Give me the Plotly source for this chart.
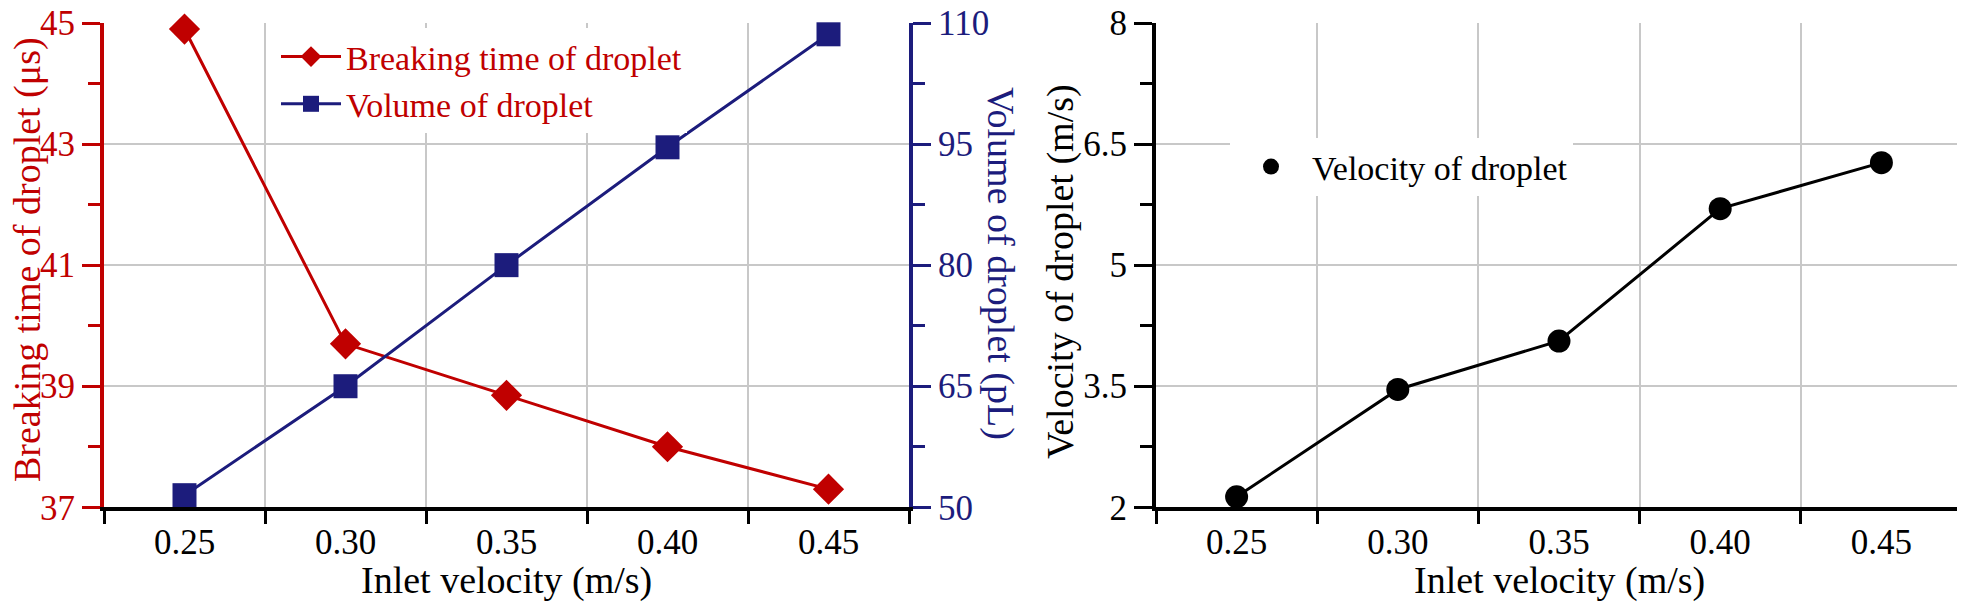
import plotly.graph_objects as go

W, H = 1965, 616
PAGE_PAD = 8  # default body margin of the html page

inlet_velocity = [0.25, 0.30, 0.35, 0.40, 0.45]
breaking_time = [44.9, 39.7, 38.85, 38.0, 37.3]
droplet_volume = [51.5, 65.0, 80.0, 94.6, 108.6]
droplet_velocity = [2.13, 3.46, 4.06, 5.70, 6.27]

x_ticks = [0.25, 0.30, 0.35, 0.40, 0.45]
x_ticktext = ["0.25", "0.30", "0.35", "0.40", "0.45"]
time_ticks = [37, 39, 41, 43, 45]
volume_ticks = [50, 65, 80, 95, 110]
velocity_ticks = [2, 3.5, 5, 6.5, 8]
velocity_ticktext = ["2", "3.5", "5", "6.5", "8"]

RED = "#c00000"
BLUE = "#1c1c7c"
GRID = "#c8c8c8"
FONT = "Liberation Serif"
TICK_FS = 35


def px_x(p):
    return (p - PAGE_PAD) / W


def px_y(p):
    return 1 - (p - PAGE_PAD) / H


fig = go.Figure()

fig.add_trace(go.Scatter(
    x=inlet_velocity, y=breaking_time, name="Breaking time of droplet",
    mode="lines+markers", line=dict(color=RED, width=3), cliponaxis=False,
    marker=dict(symbol="diamond", size=24, color=RED),
    xaxis="x", yaxis="y", legend="legend",
))
fig.add_trace(go.Scatter(
    x=inlet_velocity, y=droplet_volume, name="Volume of droplet",
    mode="lines+markers", line=dict(color=BLUE, width=3), cliponaxis=False,
    marker=dict(symbol="square", size=24, color=BLUE),
    xaxis="x", yaxis="y2", legend="legend",
))
fig.add_trace(go.Scatter(
    x=inlet_velocity, y=droplet_velocity, name="Velocity of droplet",
    mode="lines+markers", line=dict(color="black", width=3), cliponaxis=False,
    marker=dict(symbol="circle", size=23, color="black"),
    xaxis="x2", yaxis="y3", showlegend=False,
))
# legend entry for the right panel shows the marker only
fig.add_trace(go.Scatter(
    x=[None], y=[None], name="Velocity of droplet", mode="markers",
    marker=dict(symbol="circle", size=23, color="black"),
    xaxis="x2", yaxis="y3", legend="legend2",
))

left_dom = [px_x(104), px_x(909)]
right_dom = [px_x(1156), px_x(1962)]
y_dom = [px_y(507.3), px_y(23)]

xaxis_common = dict(
    range=[0.225, 0.475], tickmode="array", tickvals=x_ticks, ticktext=x_ticktext,
    ticks="outside", ticklen=0, showgrid=False, zeroline=False, automargin=False,
    showline=True, linecolor="black", linewidth=4, ticklabelstandoff=1,
    ticklabeloverflow="allow",
    tickfont=dict(family=FONT, size=TICK_FS, color="black"),
    minor=dict(tickmode="linear", tick0=0.225, dtick=0.05, ticks="outside",
               ticklen=13, tickwidth=3, tickcolor="black",
               showgrid=True, gridcolor=GRID, gridwidth=2),
)


def title_note(text, x, y, color, size, angle=0):
    return dict(
        text=text, textangle=angle, xref="paper", yref="paper",
        x=px_x(x), y=px_y(y), xanchor="center", yanchor="middle",
        showarrow=False, font=dict(family=FONT, size=size, color=color),
    )


fig.update_layout(
    width=W, height=H,
    margin=dict(l=0, r=0, t=0, b=0, autoexpand=False),
    paper_bgcolor="white", plot_bgcolor="white",
    font=dict(family=FONT, size=TICK_FS),
    xaxis=dict(domain=left_dom, anchor="y", **xaxis_common),
    xaxis2=dict(domain=right_dom, anchor="y3", **xaxis_common),
    yaxis=dict(
        domain=y_dom, anchor="x", range=[37, 45], tickmode="array", tickvals=time_ticks,
        ticks="outside", ticklen=18, tickwidth=3, tickcolor=RED, automargin=False,
        showline=True, linecolor=RED, linewidth=4, zeroline=False,
        showgrid=True, gridcolor=GRID, gridwidth=2, ticklabeloverflow="allow",
        tickfont=dict(family=FONT, size=TICK_FS, color=RED),
        minor=dict(tickmode="linear", tick0=38, dtick=2, ticks="outside",
                   ticklen=12, tickwidth=3, tickcolor=RED, showgrid=False),
    ),
    yaxis2=dict(
        domain=y_dom, anchor="x", overlaying="y", side="right",
        range=[50, 110], tickmode="array", tickvals=volume_ticks, automargin=False,
        ticks="outside", ticklen=18, tickwidth=3, tickcolor=BLUE,
        showline=True, linecolor=BLUE, linewidth=4, zeroline=False, showgrid=False,
        ticklabeloverflow="allow",
        tickfont=dict(family=FONT, size=TICK_FS, color=BLUE),
        minor=dict(tickmode="linear", tick0=57.5, dtick=15, ticks="outside",
                   ticklen=12, tickwidth=3, tickcolor=BLUE),
    ),
    yaxis3=dict(
        domain=y_dom, anchor="x2", range=[2, 8], tickmode="array",
        tickvals=velocity_ticks, ticktext=velocity_ticktext, automargin=False,
        ticks="outside", ticklen=18, tickwidth=3, tickcolor="black",
        showline=True, linecolor="black", linewidth=4, zeroline=False,
        showgrid=True, gridcolor=GRID, gridwidth=2, ticklabeloverflow="allow",
        tickfont=dict(family=FONT, size=TICK_FS, color="black"),
        minor=dict(tickmode="linear", tick0=2.75, dtick=1.5, ticks="outside",
                   ticklen=12, tickwidth=3, tickcolor="black", showgrid=False),
    ),
    legend=dict(
        x=px_x(276), y=px_y(28), xanchor="left", yanchor="top",
        bgcolor="white", borderwidth=0, itemwidth=60,
        font=dict(family=FONT, size=34, color=RED),
        tracegroupgap=0,
    ),
    legend2=dict(
        x=px_x(1230), y=px_y(138), xanchor="left", yanchor="top",
        bgcolor="white", borderwidth=0, itemwidth=72,
        font=dict(family=FONT, size=34, color="black"),
    ),
    annotations=[
        title_note("Inlet velocity (m/s)", 506, 580, "black", 38),
        title_note("Inlet velocity (m/s)", 1559, 580, "black", 38),
        title_note("Breaking time of droplet (μs)", 27, 260, RED, 38, -90),
        title_note("Volume of droplet (pL)", 1001, 263, BLUE, 38, 90),
        title_note("Velocity of droplet (m/s)", 1060, 272, "black", 38, -90),
    ],
)

fig.write_html("out.html")
